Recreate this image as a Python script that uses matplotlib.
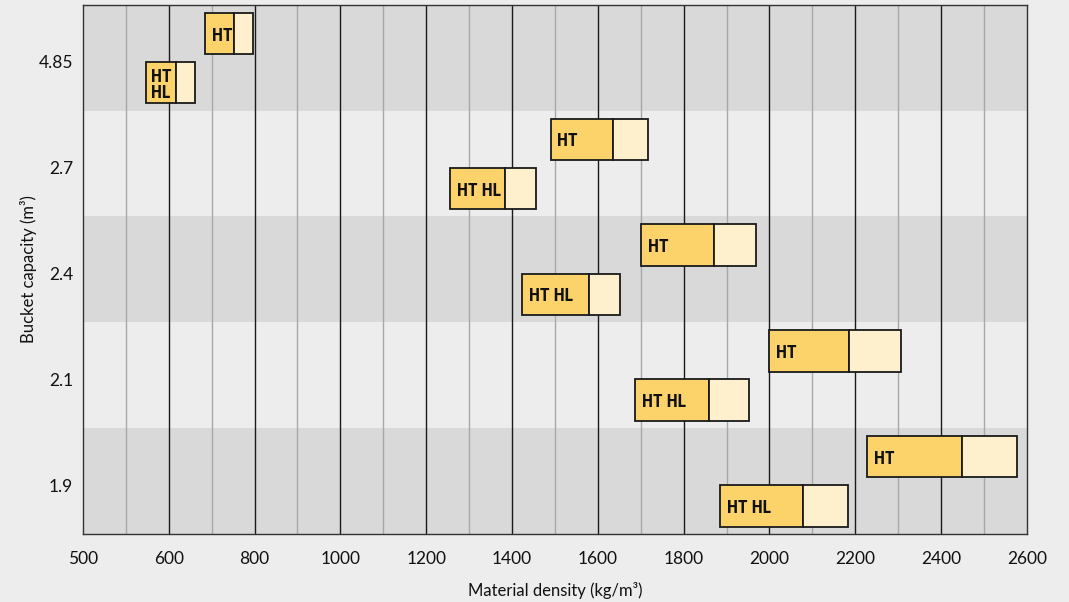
import matplotlib.pyplot as plt
from matplotlib.patches import Rectangle
from matplotlib import font_manager

# bucket capacities, top band first
capacities = ['4.85', '2.7', '2.4', '2.1', '1.9']

# HT buckets (upper bar of each band): start, split, end (kg/m3 axis units)
ht_start = [685, 1490, 1700, 2000, 2227]
ht_split = [751, 1636, 1871, 2186, 2448]
ht_end = [796, 1718, 1968, 2306, 2578]
ht_text = ['HT', 'HT', 'HT', 'HT', 'HT']

# HT HL buckets (lower bar of each band)
hl_start = [548, 1256, 1424, 1686, 1884]
hl_split = [616, 1384, 1579, 1859, 2078]
hl_end = [661, 1457, 1651, 1953, 2183]
hl_text = ['HT\nHL', 'HT HL', 'HT HL', 'HT HL', 'HT HL']

# x tick positions and the labels printed under them
x_ticks = [400, 600, 800, 1000, 1200, 1400, 1600, 1800, 2000, 2200, 2400, 2600]
x_labels = ['500', '600', '800', '1000', '1200', '1400', '1600', '1800',
            '2000', '2200', '2400', '2600']
major_lines = [600, 800, 1000, 1200, 1400, 1600, 1800, 2000, 2200, 2400]
minor_lines = [500, 700, 900, 1100, 1300, 1500, 1700, 1900, 2100, 2300, 2500]

BG = '#ededed'
BAND_DARK = '#d9d9d9'
DARK_FILL = '#fcd36b'
LIGHT_FILL = '#fef0cd'

# pick the narrowest bold face available for the bar labels
names = {f.name for f in font_manager.fontManager.ttflist}
narrow = next((f for f in ['Roboto Condensed', 'Open Sans Condensed',
                           'Liberation Sans Narrow', 'Roboto'] if f in names), 'DejaVu Sans')
plt.rcParams['font.family'] = ['Lato', 'DejaVu Sans']

fig = plt.figure(figsize=(10.69, 6.02), dpi=100, facecolor=BG)
ax = fig.add_axes([0.0776, 0.113, 0.883, 0.879])
ax.set_facecolor(BG)

n = len(capacities)
ax.set_xlim(400, 2600)
ax.set_ylim(n, 0)

# alternating bands
for k in range(n):
    if k % 2 == 0:
        ax.axhspan(k, k + 1, color=BAND_DARK, lw=0, zorder=0)

for x in minor_lines:
    ax.axvline(x, color='#a8a8a8', lw=1, zorder=1)
for x in major_lines:
    ax.axvline(x, color='#1a1a1a', lw=1, zorder=1)

bar_h = 0.39
txt_font = dict(fontweight='bold', fontsize=12.8, family=narrow, color='#111111')


def draw_bar(y0, start, split, end, label, centered):
    ax.add_patch(Rectangle((start, y0), split - start, bar_h, facecolor=DARK_FILL,
                           edgecolor='#1a1a1a', lw=1.3, zorder=3))
    ax.add_patch(Rectangle((split, y0), end - split, bar_h, facecolor=LIGHT_FILL,
                           edgecolor='#1a1a1a', lw=1.3, zorder=3))
    yc = y0 + bar_h / 2 + 0.02
    if centered:
        ax.text((start + split) / 2, yc, label, ha='center', va='center',
                linespacing=0.85, zorder=4, **txt_font)
    else:
        ax.text(start + 16, yc, label, ha='left', va='center', zorder=4, **txt_font)


for k in range(n):
    draw_bar(k + 0.075, ht_start[k], ht_split[k], ht_end[k], ht_text[k], False)
    draw_bar(k + 0.54, hl_start[k], hl_split[k], hl_end[k], hl_text[k], '\n' in hl_text[k])

ax.set_xticks(x_ticks)
ax.set_xticklabels(x_labels)
ax.set_yticks([k + 0.54 for k in range(n)])
ax.set_yticklabels(capacities)
ax.tick_params(axis='both', length=0, labelsize=12.5, colors='#111111')
ax.tick_params(axis='x', pad=12)
ax.tick_params(axis='y', pad=7)

for s in ax.spines.values():
    s.set_color('#333333')
    s.set_linewidth(1)

ax.set_xlabel('Material density (kg/m³)', fontsize=12, color='#111111')
ax.set_ylabel('Bucket capacity (m³)', fontsize=12, color='#111111')
ax.xaxis.set_label_coords(0.5, -0.106)
ax.xaxis.label.set_verticalalignment('center')
ax.yaxis.set_label_coords(-0.058, 0.5)
ax.yaxis.label.set_verticalalignment('center')

fig.savefig('out.png', dpi=100, facecolor=BG)
